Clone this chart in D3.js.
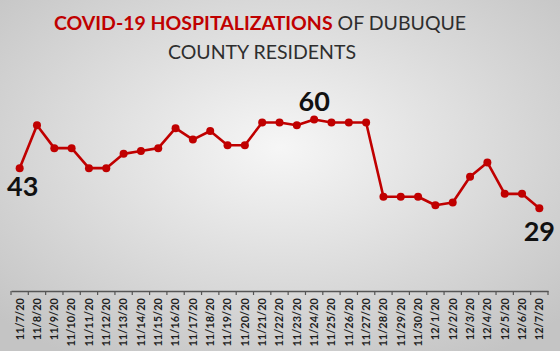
<!DOCTYPE html>
<html>
<head>
<meta charset="utf-8">
<script src="https://cdn.jsdelivr.net/npm/d3@7"></script>
<style>
  body { margin: 0; padding: 0; }
  svg { display: block; }
</style>
</head>
<body>
<div id="grafico"></div>
<script>
// datos
var dates = ["11/7/20", "11/8/20", "11/9/20", "11/10/20", "11/11/20", "11/12/20", "11/13/20",
             "11/14/20", "11/15/20", "11/16/20", "11/17/20", "11/18/20", "11/19/20", "11/20/20",
             "11/21/20", "11/22/20", "11/23/20", "11/24/20", "11/25/20", "11/26/20", "11/27/20",
             "11/28/20", "11/29/20", "11/30/20", "12/1/20", "12/2/20", "12/3/20", "12/4/20",
             "12/5/20", "12/6/20", "12/7/20"];
var hospitalized = [43, 58, 50, 50, 43, 43, 48, 49, 50, 57, 53, 56, 51, 51, 59,
                    59, 58, 60, 59, 59, 59, 33, 33, 33, 30, 31, 40, 45, 34, 34, 29];
var labeled = ["11/7/20", "11/24/20", "12/7/20"];

var w = 560,
    h = 351,
    margin = {top: 90, right: 12, bottom: 60, left: 11};

var svg = d3.select("#grafico")
            .append("svg")
            .attr("width", w)
            .attr("height", h);

// fondo con degradado radial
var grad = svg.append("defs").append("radialGradient")
              .attr("id", "bg")
              .attr("cx", "50%").attr("cy", "42%").attr("r", "70%");
grad.append("stop").attr("offset", "0%").attr("stop-color", "#f6f6f6");
grad.append("stop").attr("offset", "100%").attr("stop-color", "#c4c4c4");

svg.append("rect")
   .attr("width", w)
   .attr("height", h)
   .attr("fill", "url(#bg)");

// titulo
var title = svg.append("text")
               .attr("x", 260)
               .attr("y", 30)
               .attr("text-anchor", "middle")
               .style("font-family", "Lato, 'Open Sans', sans-serif")
               .style("font-size", "19.5px");
title.append("tspan").attr("fill", "#c00000").style("font-weight", "bold").text("COVID-19 HOSPITALIZATIONS");
title.append("tspan").attr("fill", "#2e2e2e").text(" OF DUBUQUE");

svg.append("text")
   .attr("x", 262)
   .attr("y", 59)
   .attr("text-anchor", "middle")
   .attr("fill", "#2e2e2e")
   .style("font-family", "Lato, 'Open Sans', sans-serif")
   .style("font-size", "19.5px")
   .text("COUNTY RESIDENTS");

var x = d3.scaleBand()
          .domain(dates)
          .range([margin.left, w - margin.right]);

var y = d3.scaleLinear()
          .domain([0, 70])
          .range([291, 91]);

// eje x
var xAxis = d3.axisBottom(x).tickSize(0).tickPadding(0);
var gx = svg.append("g")
            .attr("transform", "translate(0,291)")
            .call(xAxis);
gx.select(".domain").attr("stroke", "#555").attr("stroke-width", 1.5);
gx.selectAll(".tick text")
  .attr("transform", "rotate(-90)")
  .attr("x", -7)
  .attr("y", 0)
  .attr("dy", "0.35em")
  .style("text-anchor", "end")
  .style("font-family", "Lato, sans-serif")
  .style("font-weight", "bold")
  .style("font-size", "11px")
  .attr("fill", "#1e1e1e");

// marcas entre categorias
var edges = dates.map(function(d) { return x(d); }).concat([x.range()[1]]);
gx.selectAll(".sep")
  .data(edges)
  .enter()
  .append("line")
  .attr("class", "sep")
  .attr("x1", function(d) { return d; })
  .attr("x2", function(d) { return d; })
  .attr("y1", 0)
  .attr("y2", 4)
  .attr("stroke", "#555")
  .attr("stroke-width", 1.2);

var cx = function(d) { return x(d) + x.bandwidth() / 2; };
var data = dates.map(function(d, i) { return {date: d, value: hospitalized[i]}; });

var line = d3.line()
             .x(function(d) { return cx(d.date); })
             .y(function(d) { return y(d.value); });

svg.append("path")
   .datum(data)
   .attr("d", line)
   .attr("fill", "none")
   .attr("stroke", "#c00000")
   .attr("stroke-width", 2.6)
   .attr("stroke-linejoin", "round");

svg.selectAll(".dot")
   .data(data)
   .enter()
   .append("circle")
   .attr("class", "dot")
   .attr("cx", function(d) { return cx(d.date); })
   .attr("cy", function(d) { return y(d.value); })
   .attr("r", 4)
   .attr("fill", "#c00000");

// etiquetas de datos
var offs = {"11/7/20": [3, 28], "11/24/20": [0, -9], "12/7/20": [0, 33]};
svg.selectAll(".lbl")
   .data(data.filter(function(d) { return labeled.indexOf(d.date) >= 0; }))
   .enter()
   .append("text")
   .attr("class", "lbl")
   .attr("x", function(d) { return cx(d.date) + offs[d.date][0]; })
   .attr("y", function(d) { return y(d.value) + offs[d.date][1]; })
   .attr("text-anchor", "middle")
   .style("font-family", "Lato, sans-serif")
   .style("font-weight", "bold")
   .style("font-size", "27px")
   .attr("fill", "#111")
   .text(function(d) { return d.value; });
</script>
</body>
</html>
